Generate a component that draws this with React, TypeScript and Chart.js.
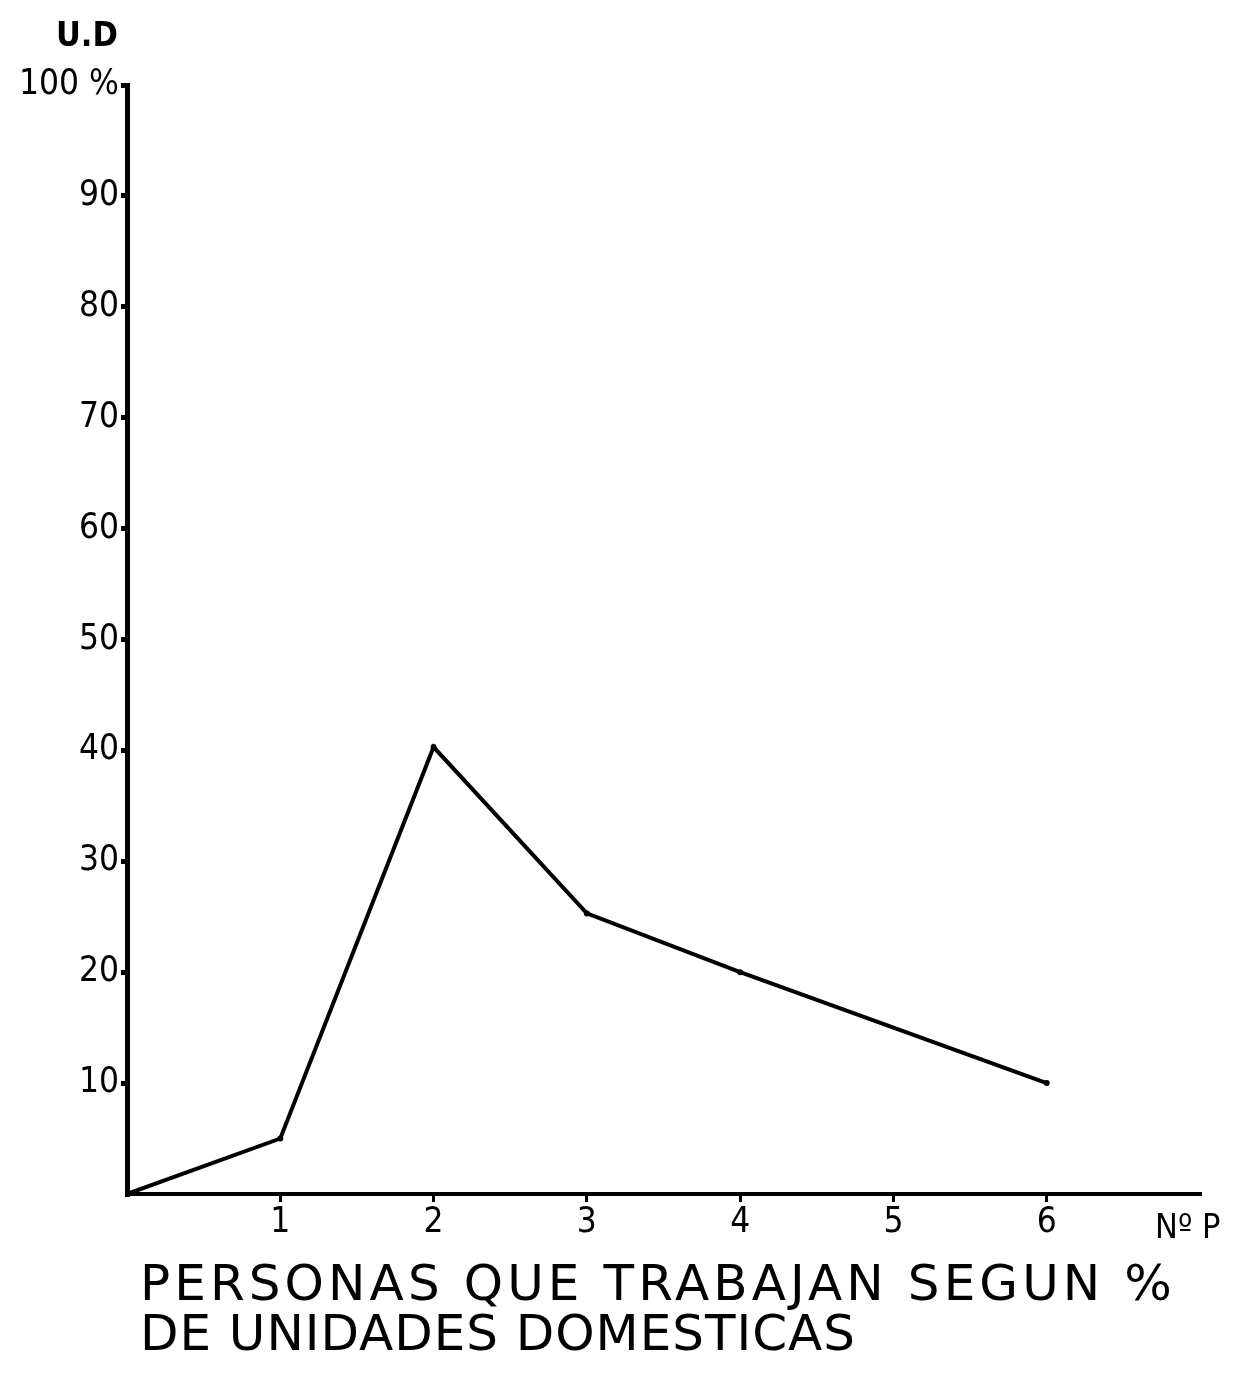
import React, { useEffect, useRef } from "react";
import { Chart, registerables } from "chart.js";

Chart.register(...registerables);

// Number of working persons (x) and % of domestic units (y)
const xValues = [0, 1, 2, 3, 4, 6];
const yValues = [0, 5, 40.3, 25.3, 20, 10];
const xTickLabels = ["", "1", "2", "3", "4", "5", "6", ""];
const yTickLabels = ["", "10", "20", "30", "40", "50", "60", "70", "80", "90", "100 %"];
const titleLines = ["PERSONAS QUE TRABAJAN SEGUN %", "DE UNIDADES DOMESTICAS"];
const yAxisTitle = "U.D";
const xAxisTitle = "Nº P";

const INK = "#000000";
const FONT = "'DejaVu Sans Condensed', 'DejaVu Sans'";
const TITLE_FONT = "'DejaVu Sans'";

export default function App() {
  const ref = useRef<HTMLCanvasElement | null>(null);

  useEffect(() => {
    const canvas = ref.current;
    if (!canvas) return;

    const textPlugin = {
      id: "annotText",
      afterDraw(chart: any) {
        const ctx = chart.ctx as CanvasRenderingContext2D;
        ctx.save();
        ctx.fillStyle = INK;
        ctx.textBaseline = "alphabetic";
        ctx.textAlign = "left";
        // axis titles
        ctx.font = "bold 34px " + FONT;
        ctx.fillText(yAxisTitle, 56, 46);
        ctx.font = "34px " + FONT;
        ctx.fillText(xAxisTitle, 1155, 1238);
        // title lines
        const targets = [
          { x: 140, y: 1300, w: 1032 },
          { x: 140, y: 1350, w: 715 },
        ];
        ctx.font = "50px " + TITLE_FONT;
        titleLines.forEach((line, i) => {
          const t = targets[i];
          (ctx as any).letterSpacing = "0px";
          const base = ctx.measureText(line).width;
          const sp = (t.w - base) / Math.max(1, line.length - 1);
          (ctx as any).letterSpacing = sp.toFixed(2) + "px";
          ctx.fillText(line, t.x, t.y);
        });
        (ctx as any).letterSpacing = "0px";
        ctx.restore();
      },
    };

    const chart = new Chart(canvas, {
      type: "line",
      data: {
        datasets: [
          {
            data: xValues.map((x, i) => ({ x, y: yValues[i] })),
            borderColor: INK,
            backgroundColor: INK,
            borderWidth: 4,
            pointRadius: 3,
            pointBackgroundColor: INK,
            pointBorderWidth: 0,
            tension: 0,
            fill: false,
          },
        ],
      },
      options: {
        responsive: false,
        animation: false,
        events: [],
        layout: { padding: { top: 85, right: 40, bottom: 0, left: 0 } },
        plugins: {
          legend: { display: false },
          tooltip: { enabled: false },
          title: { display: false },
        },
        scales: {
          x: {
            type: "linear",
            min: 0,
            max: 7,
            afterFit: (s: any) => {
              s.height = 181;
            },
            border: { display: true, color: INK, width: 4 },
            grid: {
              drawOnChartArea: false,
              drawTicks: true,
              tickLength: 8,
              lineWidth: 3,
              color: (c: any) => (xTickLabels[c.index] ? INK : "rgba(0,0,0,0)"),
            },
            ticks: {
              stepSize: 1,
              autoSkip: false,
              maxRotation: 0,
              padding: 0,
              color: INK,
              font: { family: FONT, size: 35 },
              callback: (_v: any, i: number) => xTickLabels[i] ?? "",
            },
          },
          y: {
            type: "linear",
            min: 0,
            max: 100,
            afterFit: (s: any) => {
              s.width = 127;
            },
            border: { display: true, color: INK, width: 5 },
            grid: {
              drawOnChartArea: false,
              drawTicks: true,
              tickLength: 6,
              lineWidth: 5,
              color: (c: any) => (yTickLabels[c.index] ? INK : "rgba(0,0,0,0)"),
            },
            ticks: {
              stepSize: 10,
              autoSkip: false,
              padding: 2,
              color: INK,
              font: { family: FONT, size: 35 },
              callback: (_v: any, i: number) => yTickLabels[i] ?? "",
            },
          },
        },
      },
      plugins: [textPlugin],
    } as any);

    return () => chart.destroy();
  }, []);

  return (
    <div style={{ position: "absolute", left: 0, top: 0, width: 1240, height: 1375, background: "#ffffff" }}>
      <canvas ref={ref} width={1240} height={1375} style={{ display: "block" }} />
    </div>
  );
}
